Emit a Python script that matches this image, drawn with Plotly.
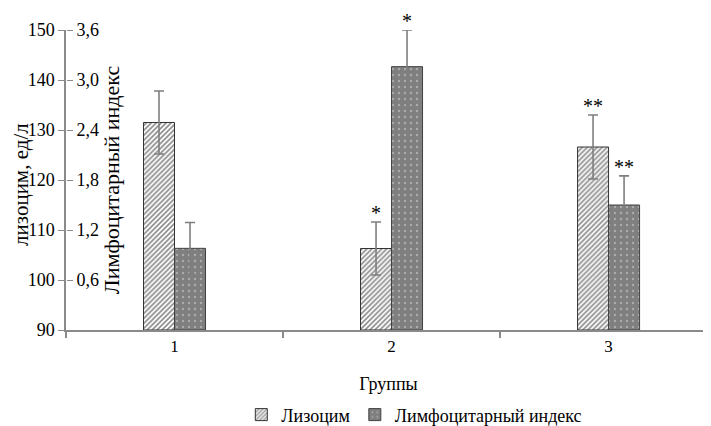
import plotly.graph_objects as go

groups = ["1", "2", "3"]
x_pos = [0, 1, 2]
lysozyme = [131.5, 106.3, 126.6]
lysozyme_err = [6.3, 5.3, 6.4]
lymph_index = [0.98, 3.16, 1.50]
lymph_err = [0.31, 0.44, 0.35]
lysozyme_marks = ["", "*", "**"]
lymph_marks = ["", "*", "**"]
y1_ticks = [90, 100, 110, 120, 130, 140, 150]
y2_ticks = [0.6, 1.2, 1.8, 2.4, 3.0, 3.6]

FONT = "Liberation Serif, Times New Roman, serif"
BW = 31 / 217
AX = "#8a8a8a"

fig = go.Figure()
fig.add_trace(go.Bar(
    name="Лизоцим", x=x_pos, y=[v - 90 for v in lysozyme], base=90,
    width=BW, offset=-BW,
    marker=dict(color="white", line=dict(color="#333333", width=1),
                pattern=dict(shape="/", fgcolor="#222222", bgcolor="white", size=3.5, solidity=0.5)),
    error_y=dict(type="data", array=lysozyme_err, color="#7f7f7f", thickness=1.6, width=5),
    yaxis="y"))
fig.add_trace(go.Bar(
    name="Лимфоцитарный индекс", x=x_pos, y=lymph_index,
    width=BW, offset=0,
    marker=dict(color="#7f7f7f", line=dict(color="#404040", width=1),
                pattern=dict(shape=".", fgcolor="#d8d8d8", bgcolor="#7f7f7f", size=6, solidity=0.12)),
    error_y=dict(type="data", array=lymph_err, color="#7f7f7f", thickness=1.6, width=5),
    yaxis="y2"))

for xi, v, e, m in zip(x_pos, lysozyme, lysozyme_err, lysozyme_marks):
    if m:
        fig.add_annotation(x=xi - BW / 2, y=v + e, yref="y", text=m, showarrow=False,
                           yanchor="bottom", yshift=-4, font=dict(family=FONT, size=20, color="black"))
for xi, v, e, m in zip(x_pos, lymph_index, lymph_err, lymph_marks):
    if m:
        fig.add_annotation(x=xi + BW / 2, y=v + e, yref="y2", text=m, showarrow=False,
                           yanchor="bottom", yshift=-4, font=dict(family=FONT, size=20, color="black"))

# left axis title placed by hand (window px ~21, 185 relative to plot area 66..711 x 30..330)
fig.add_annotation(x=(21 - 66) / 645, xref="paper", xanchor="center",
                   y=(330 - 185) / 300, yref="paper", yanchor="middle", text="лизоцим, ед/л",
                   showarrow=False, textangle=-90, font=dict(family=FONT, size=21, color="black"))

# page body has an 8px margin: compensate so plot area lands at 66..711 x 30..330 in the window
fig.update_layout(
    width=711, height=426,
    margin=dict(l=58, r=8, t=22, b=104, autoexpand=False),
    plot_bgcolor="white", paper_bgcolor="white",
    separators=", ",
    font=dict(family=FONT, size=17, color="black"),
    showlegend=True,
    legend=dict(orientation="h", x=0.54, xanchor="center", y=-0.283, yanchor="middle",
                font=dict(family=FONT, size=18), itemwidth=30, tracegroupgap=0),
    xaxis=dict(range=[-0.5, 2.472], tickvals=x_pos, ticktext=groups, ticks="",
               showline=True, linecolor=AX, linewidth=1.5, showgrid=False, zeroline=False,
               minor=dict(tickvals=[-0.5, 0.5, 1.5, 2.5], ticks="outside", ticklen=6,
                          tickcolor=AX, tickwidth=1.5),
               tickfont=dict(family=FONT, size=17), automargin=False,
               title=dict(text="Группы", font=dict(family=FONT, size=18), standoff=22)),
    yaxis=dict(range=[90, 150], tickvals=y1_ticks, ticks="outside", ticklen=6, tickcolor=AX,
               showline=True, linecolor=AX, linewidth=1.5, showgrid=False, zeroline=False,
               tickfont=dict(family=FONT, size=18), automargin=False),
    yaxis2=dict(range=[0, 3.6], tickvals=y2_ticks, tickformat=".1f", overlaying="y", side="right",
                anchor="free", position=0,
                ticks="outside", ticklen=6, tickcolor=AX, showline=False, showgrid=False,
                zeroline=False, tickfont=dict(family=FONT, size=18), automargin=False,
                title=dict(text="Лимфоцитарный индекс", font=dict(family=FONT, size=22), standoff=0)),
)

fig.write_html("out.html")
